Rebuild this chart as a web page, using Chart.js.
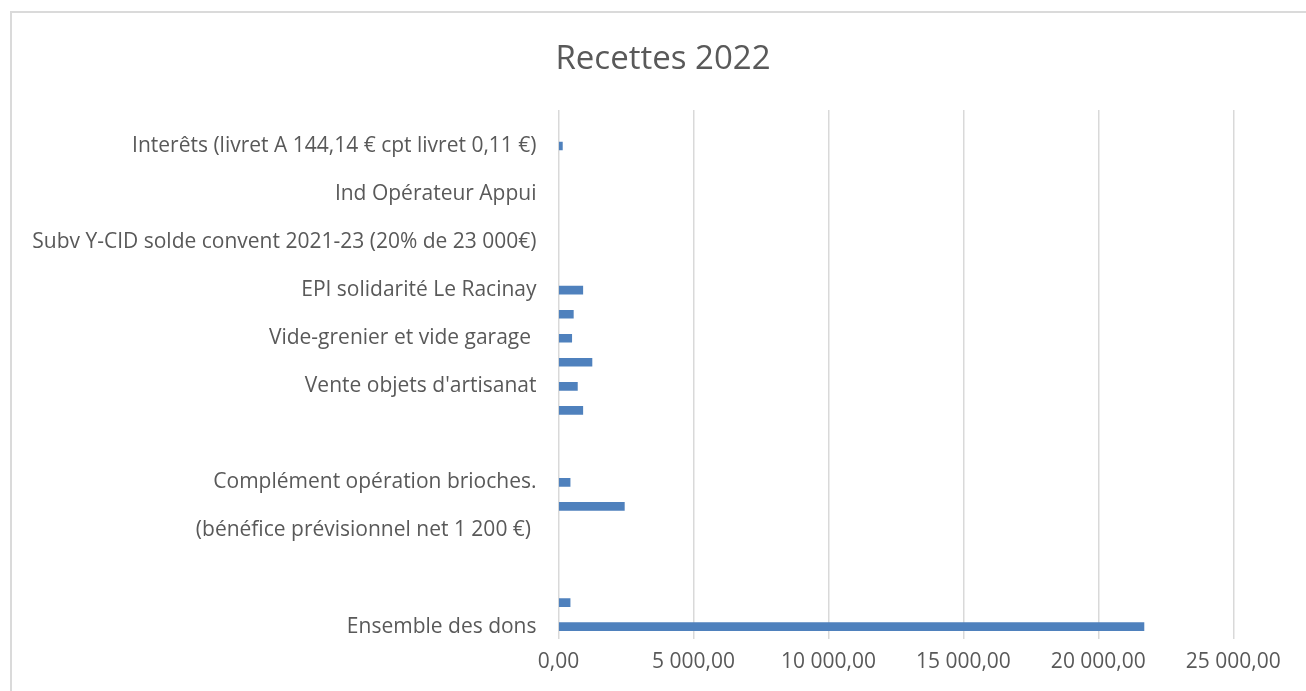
<!DOCTYPE html>
<html>
<head>
<meta charset="utf-8">
<script src="https://cdn.jsdelivr.net/npm/chart.js@4/dist/chart.umd.min.js"></script>
<style>
  html, body { margin: 0; padding: 0; background: #fff; overflow: hidden; }
  .frame { position: absolute; left: 10px; top: 11px; width: 1400px; height: 800px; border: 2px solid #dadada; }
  #chart { position: absolute; left: 0; top: 0; }
</style>
</head>
<body>
<div class="frame"></div>
<canvas id="chart" width="1306" height="691"></canvas>
<script>
// categories top to bottom (Excel only prints every second label)
const categories = [
    "",
    "Interêts (livret A 144,14 € cpt livret 0,11 €)",
    "",
    "Ind Opérateur Appui",
    "",
    "Subv Y-CID solde convent 2021-23 (20% de 23 000€)",
    "",
    "EPI solidarité Le Racinay",
    "",
    "Vide-grenier et vide garage ",
    "",
    "Vente objets d'artisanat",
    "",
    "",
    "",
    "Complément opération brioches.",
    "",
    "(bénéfice prévisionnel net 1 200 €) ",
    "",
    "",
    "",
    "Ensemble des dons"
];
const amounts = [null, 144.25, null, null, null, null, null, 900, 550, 490, 1240, 700, 900,
    null, null, 430, 2440, null, null, null, 430, 21690];
const xTicks = [0, 5000, 10000, 15000, 20000, 25000];

function frNumber(v) {
    let parts = v.toFixed(2).split(".");
    parts[0] = parts[0].replace(/\B(?=(\d{3})+(?!\d))/g, " ");
    return parts[0] + "," + parts[1];
}

let grey = "#595959";
let font = "'Open Sans', sans-serif";

// centre the title on the whole frame, not just the padded area
const titleCentre = {
    id: "titleCentre",
    afterLayout(chart) {
        let t = chart.titleBlock;
        if (!t) return;
        t.left = 20;
        t.right = 1306;
        t.width = t.right - t.left;
    }
};

let ctx = document.getElementById("chart").getContext("2d");
new Chart(ctx, {
    type: "bar",
    data: {
        labels: categories,
        datasets: [{
            data: amounts,
            backgroundColor: "#4f81bd",
            barThickness: 8
        }]
    },
    options: {
        indexAxis: "y",
        responsive: false,
        animation: false,
        layout: { padding: { left: 0, right: 72.7, top: 0, bottom: 6.4 } },
        plugins: {
            legend: { display: false },
            tooltip: { enabled: false },
            title: {
                display: true,
                text: "Recettes 2022",
                color: grey,
                font: { family: font, size: 33, weight: "normal" },
                padding: { top: 40, bottom: 30.4 }
            }
        },
        scales: {
            x: {
                min: 0,
                max: 25000,
                afterBuildTicks: function (scale) {
                    scale.ticks = xTicks.map(v => ({ value: v }));
                },
                grid: { color: "#d9d9d9", lineWidth: 1.5, drawTicks: false },
                border: { display: false },
                ticks: {
                    color: grey,
                    padding: 10.4,
                    maxRotation: 0,
                    font: { family: font, size: 21 },
                    callback: v => frNumber(v)
                }
            },
            y: {
                grid: { display: false, drawTicks: false },
                border: { display: false },
                afterFit: function (scale) { scale.width = 558.5; },
                ticks: {
                    autoSkip: false,
                    color: grey,
                    padding: 22,
                    font: { family: font, size: 21 }
                }
            }
        }
    },
    plugins: [titleCentre]
});
</script>
</body>
</html>
